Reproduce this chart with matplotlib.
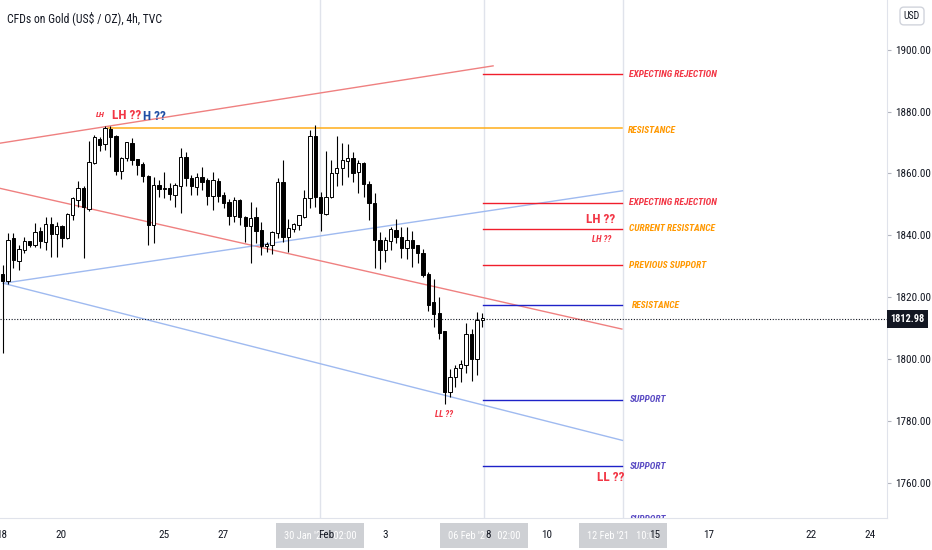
import numpy as np
import matplotlib.pyplot as plt
from matplotlib.transforms import blended_transform_factory

plt.rcParams['font.family'] = ['Roboto Condensed', 'Liberation Sans Narrow', 'DejaVu Sans']
plt.rcParams['font.stretch'] = 'condensed'

# 4h candles (Jan 18 -> Feb 6)
opens = [1827.5, 1825.3, 1839.0, 1831.8, 1835.3, 1837.9, 1837.0, 1841.2, 1838.0, 1843.6,
         1840.3, 1842.8, 1839.0, 1846.6, 1851.4, 1855.2, 1848.4, 1863.5, 1871.1, 1869.5,
         1874.1, 1872.1, 1860.9, 1864.9, 1869.8, 1864.4, 1863.0, 1859.2, 1843.4, 1856.0,
         1854.9, 1855.1, 1853.1, 1856.0, 1865.2, 1858.5, 1855.5, 1858.7, 1857.7, 1852.8,
         1857.4, 1852.8, 1850.6, 1846.1, 1851.4, 1845.8, 1843.1, 1845.8, 1841.5, 1836.4,
         1836.9, 1840.7, 1857.1, 1839.6, 1842.0, 1843.4, 1845.8, 1852.0, 1872.1, 1852.3,
         1846.9, 1852.3, 1860.1, 1861.7, 1864.2, 1864.9, 1860.6, 1863.3, 1856.6, 1850.4,
         1838.5, 1835.3, 1838.3, 1841.7, 1839.4, 1835.8, 1838.3, 1836.6, 1834.2, 1827.5,
         1818.2, 1814.8, 1808.9, 1789.5, 1794.1, 1797.0, 1798.1, 1808.1, 1799.9, 1812.5]
highs = [1830.4, 1840.7, 1840.9, 1836.9, 1839.6, 1838.2, 1843.9, 1842.8, 1845.8, 1846.0,
         1844.4, 1843.3, 1847.3, 1852.3, 1857.6, 1855.8, 1870.6, 1872.5, 1871.9, 1875.2,
         1875.2, 1872.4, 1865.4, 1870.3, 1871.4, 1864.6, 1863.8, 1859.4, 1859.0, 1857.8,
         1860.6, 1856.8, 1856.8, 1868.2, 1867.1, 1859.5, 1860.1, 1862.2, 1858.5, 1860.6,
         1858.5, 1854.1, 1851.7, 1852.3, 1851.7, 1846.3, 1850.9, 1849.3, 1844.4, 1838.0,
         1841.5, 1858.5, 1864.4, 1845.2, 1843.9, 1846.6, 1854.7, 1874.1, 1875.7, 1854.1,
         1867.4, 1864.4, 1872.1, 1870.0, 1869.6, 1867.1, 1864.4, 1863.8, 1857.7, 1853.8,
         1841.2, 1839.4, 1842.8, 1845.2, 1842.6, 1842.8, 1841.5, 1836.9, 1835.5, 1828.0,
         1826.0, 1820.2, 1809.0, 1796.7, 1798.1, 1799.7, 1811.8, 1809.6, 1815.3, 1814.8]
lows = [1801.9, 1824.3, 1829.4, 1828.8, 1834.4, 1836.1, 1836.3, 1835.8, 1835.3, 1832.9,
        1833.1, 1836.3, 1838.8, 1845.0, 1849.3, 1832.6, 1848.0, 1863.0, 1867.2, 1867.6,
        1865.4, 1859.5, 1858.1, 1864.2, 1862.8, 1859.5, 1857.4, 1836.9, 1837.4, 1852.3,
        1852.0, 1851.4, 1849.3, 1847.1, 1855.8, 1853.1, 1853.1, 1854.7, 1849.8, 1848.2,
        1850.9, 1848.8, 1843.4, 1844.4, 1843.4, 1838.0, 1831.0, 1837.4, 1833.7, 1834.7,
        1834.0, 1839.0, 1838.0, 1834.7, 1841.2, 1841.7, 1845.5, 1848.7, 1849.3, 1841.5,
        1846.5, 1852.0, 1856.0, 1856.3, 1859.0, 1857.4, 1853.6, 1852.3, 1844.8, 1829.3,
        1829.0, 1831.5, 1835.1, 1837.6, 1832.6, 1832.3, 1829.9, 1831.0, 1826.6, 1815.5,
        1810.5, 1806.4, 1785.5, 1787.8, 1790.9, 1792.7, 1795.4, 1793.0, 1794.8, 1810.5]
closes = [1825.3, 1838.5, 1832.0, 1835.5, 1838.0, 1837.0, 1840.9, 1838.3, 1843.4, 1840.4,
          1842.9, 1839.0, 1846.6, 1852.0, 1855.1, 1849.1, 1863.5, 1871.7, 1869.2, 1874.5,
          1871.9, 1860.9, 1864.9, 1870.0, 1864.4, 1862.8, 1859.2, 1843.4, 1856.0, 1854.9,
          1855.3, 1853.3, 1856.0, 1865.2, 1858.5, 1856.0, 1858.7, 1857.4, 1852.8, 1857.6,
          1852.8, 1850.4, 1846.1, 1851.4, 1845.8, 1843.1, 1845.5, 1841.5, 1836.4, 1837.0,
          1840.9, 1857.2, 1839.6, 1842.3, 1843.4, 1846.3, 1852.0, 1872.1, 1852.3, 1847.1,
          1852.3, 1860.1, 1861.7, 1864.2, 1864.9, 1860.3, 1863.3, 1856.6, 1850.4, 1838.5,
          1835.3, 1838.5, 1841.9, 1839.4, 1835.8, 1838.3, 1835.8, 1834.2, 1827.2, 1817.5,
          1814.6, 1808.5, 1789.5, 1794.1, 1797.0, 1798.1, 1808.1, 1799.9, 1812.4, 1812.98]
last_price = 1812.98

# date ticks (bar index where the day starts)
day_pos = [-0.1, 10.8, 30.0, 40.9, 60.0, 71.0, 90.0, 101.0, 121.0, 131.0, 150.0, 161.0]
day_lab = ['18', '20', '25', '27', 'Feb', '3', '8', '10', '15', '17', '22', '24']
price_ticks = [1760, 1780, 1800, 1820, 1840, 1860, 1880, 1900]

# trend lines: start / end in (bar, price)
trend_x0 = [-0.5, -0.5, 0.1, 0.1]
trend_y0 = [1869.8, 1855.2, 1824.5, 1824.5]
trend_x1 = [91.0, 114.9, 115.0, 115.0]
trend_y1 = [1894.8, 1809.7, 1854.4, 1773.7]

# long resistance line
res_x0, res_x1, res_price = 19.5, 114.9, 1874.8

# horizontal levels drawn from the last candle
level_x0, level_x1 = 89.1, 114.9
level_prices = [1892.1, 1850.5, 1842.1, 1830.4, 1817.4, 1786.8, 1765.4, 1748.0]
level_labels = ['EXPECTING REJECTION', 'EXPECTING REJECTION', 'CURRENT RESISTANCE',
                'PREVIOUS SUPPORT', 'RESISTANCE', 'SUPPORT', 'SUPPORT', 'SUPPORT']

# vertical date markers
marker_x = [58.9, 89.3, 115.1]
marker_lab = ["30 Jan '21   02:00", "06 Feb '21   02:00", "12 Feb '21   10:00"]

# LH / LL notes (left edge)
note_x = [17.3, 20.2, 26.1, 108.2, 109.3, 80.2, 110.2]
note_y = [1879.2, 1878.9, 1878.4, 1845.0, 1838.5, 1782.2, 1761.8]
note_txt = ['LH', 'LH ??', 'H ??', 'LH ??', 'LH ??', 'LL ??', 'LL ??']

RED = '#f23645'
ORANGE = '#ff9800'
PURPLE = '#5b4cc4'
DARK = '#131722'

fig = plt.figure(figsize=(9.32, 5.5), dpi=100)
ax = fig.add_axes([0, 32 / 550, 887 / 932, 518 / 550])

x = np.arange(len(opens))
o = np.array(opens)
c = np.array(closes)
up = c >= o

# candles
ax.vlines(x, lows, highs, color='black', lw=0.8, zorder=3)
ax.bar(x, np.abs(c - o) + 0.15, bottom=np.minimum(o, c), width=0.62,
       color=np.where(up, 'white', 'black'), edgecolor='black', lw=0.7, zorder=4)

# trend lines
tcols = ['#ef8080', '#ef8080', '#9fbaf0', '#9fbaf0']
for i in range(4):
    ax.plot([trend_x0[i], trend_x1[i]], [trend_y0[i], trend_y1[i]], color=tcols[i], lw=1, zorder=2)

ax.plot([res_x0, res_x1], [res_price, res_price], color='#ffae1a', lw=1.1, zorder=2)
ax.text(116.0, res_price - 0.8, 'RESISTANCE', color=ORANGE, fontsize=6.8,
        style='italic', fontweight='bold', va='center')

lcols = ['#f01e2c'] * 4 + ['#1e22c8'] * 4
tcol = [RED, RED, ORANGE, ORANGE, ORANGE, PURPLE, PURPLE, PURPLE]
lx = [116.3, 116.3, 116.3, 116.3, 116.8, 116.3, 116.3, 116.3]
for i, p in enumerate(level_prices):
    ax.plot([level_x0, level_x1], [p, p], color=lcols[i], lw=1, zorder=2)
    ax.text(lx[i], p, level_labels[i], color=tcol[i], fontsize=6.8, style='italic',
            fontweight='bold', va='center', clip_on=True)

# notes
nsize = [6, 9.5, 9.5, 9.5, 6.5, 6.5, 9.5]
ncol = [RED, RED, '#1f4fa6', RED, RED, RED, RED]
nstyle = ['italic', 'normal', 'normal', 'normal', 'italic', 'italic', 'normal']
for i in range(len(note_txt)):
    ax.text(note_x[i], note_y[i], note_txt[i], color=ncol[i], fontsize=nsize[i],
            style=nstyle[i], fontweight='bold', ha='left', va='center')

# vertical markers
trans_x = blended_transform_factory(ax.transData, ax.transAxes)
for mx, ml in zip(marker_x, marker_lab):
    ax.axvline(mx, color='#e0e3eb', lw=1, zorder=1)
    ax.text(mx, -0.034, ml, transform=trans_x, ha='center', va='center', color='white',
            fontsize=7.5, zorder=1, clip_on=False,
            bbox=dict(boxstyle='square,pad=0.75', fc='#c9cbd0', ec='none', alpha=0.9))

# last price
ax.axhline(last_price, color=DARK, lw=0.8, ls=(0, (1, 1.5)), zorder=2)
trans_y = blended_transform_factory(ax.transAxes, ax.transData)
ax.text(1.004, last_price, f'{last_price:.2f}', transform=trans_y, color='white',
        fontsize=7.5, fontweight='bold', va='center', ha='left', clip_on=False, zorder=5,
        bbox=dict(boxstyle='square,pad=0.35', fc=DARK, ec='none'))

ax.set_xlim(-0.5, 164.1)
ax.set_ylim(1748.6, 1916.1)
ax.set_xticks(day_pos, day_lab)
ax.yaxis.tick_right()
ax.set_yticks(price_ticks, [f'{p:.2f}' for p in price_ticks])
ax.tick_params(axis='x', length=0, pad=9, labelsize=8, labelcolor=DARK)
ax.tick_params(axis='y', length=3, pad=3, labelsize=8, labelcolor=DARK, color='#b2b5be')
for s in ['top', 'left']:
    ax.spines[s].set_visible(False)
for s in ['right', 'bottom']:
    ax.spines[s].set_color('#e0e3eb')

fig.text(7 / 932, 1 - 18 / 550, 'CFDs on Gold (US$ / OZ), 4h, TVC', fontsize=8.5,
         color=DARK, va='center')
fig.text(912 / 932, 1 - 16 / 550, 'USD', fontsize=7, color=DARK, ha='center', va='center',
         bbox=dict(boxstyle='round,pad=0.4', fc='white', ec='#d1d4dc'))

fig.savefig('out.png', dpi=100)
